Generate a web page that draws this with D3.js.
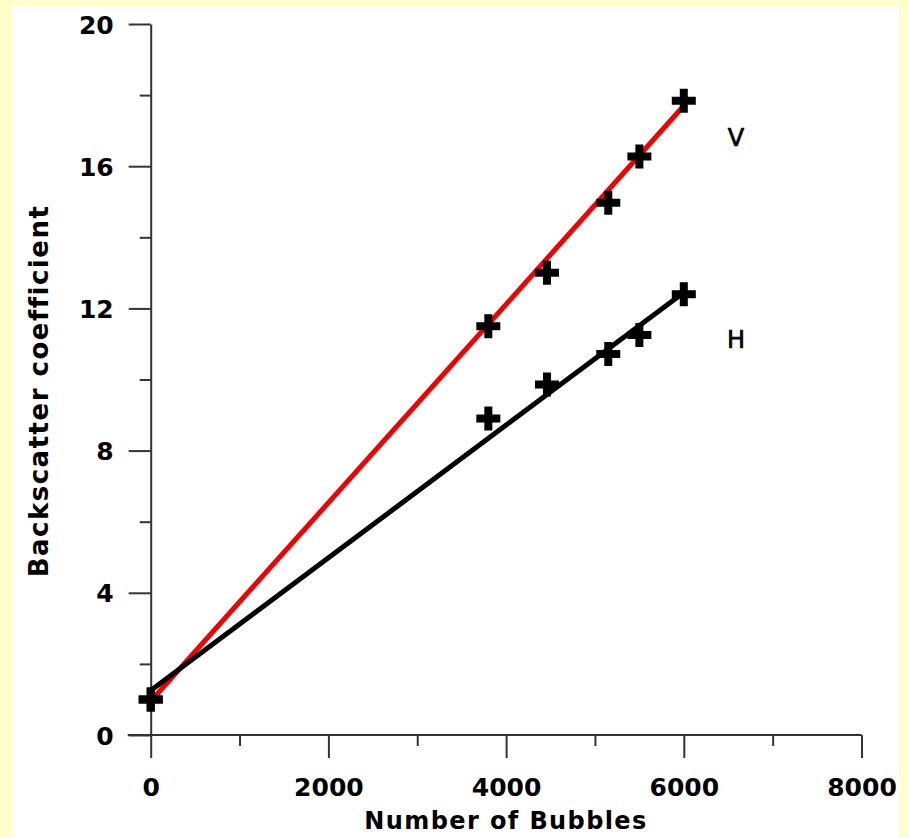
<!DOCTYPE html>
<html>
<head>
<meta charset="utf-8">
<script src="https://cdn.jsdelivr.net/npm/d3@7"></script>
<style>
  body { margin: 0; background: #ffffcc; }
  svg { display: block; }
  .axis path, .axis line { stroke: #333; stroke-width: 2; }
  .axis text { font-family: "DejaVu Sans", sans-serif; font-weight: bold; font-size: 25px; fill: #000; }
</style>
</head>
<body>
<div id="chart"></div>
<script>
// data
let bubbles = [0, 3800, 4460, 5150, 5500, 6000];
let vValues = [1.0, 11.5, 13.0, 14.97, 16.27, 17.84];
let hValues = [1.0, 8.9, 9.86, 10.72, 11.25, 12.4];

// fitted lines (end points)
let fitX = [0, 6000];
let vFit = [0.95, 17.7];
let hFit = [1.25, 12.45];

let xTicks = [0, 2000, 4000, 6000, 8000];
let xMinor = [1000, 3000, 5000, 7000];
let yTicks = [0, 4, 8, 12, 16, 20];
let yMinor = [2, 6, 10, 14, 18];

let width = 909, height = 838;

let svg = d3.select('#chart').append('svg')
    .attr('width', width)
    .attr('height', height);

svg.append('rect')
    .attr('width', width).attr('height', height)
    .attr('fill', '#ffffcc');

svg.append('rect')
    .attr('x', 12).attr('y', 6)
    .attr('width', 887).attr('height', height - 6)
    .attr('fill', '#fff');

let x = d3.scaleLinear().domain([0, 8000]).range([150.7, 861.5]);
let y = d3.scaleLinear().domain([0, 20]).range([735, 24]);

// minor ticks first
svg.append('g')
    .attr('class', 'axis')
    .attr('transform', 'translate(0,' + y(0) + ')')
    .call(d3.axisBottom(x).tickValues(xMinor).tickSize(11).tickSizeOuter(0).tickFormat(''))
    .select('.domain').remove();

svg.append('g')
    .attr('class', 'axis')
    .attr('transform', 'translate(' + x(0) + ',0)')
    .call(d3.axisLeft(y).tickValues(yMinor).tickSize(11).tickSizeOuter(0).tickFormat(''))
    .select('.domain').remove();

// main axes
let xAxis = svg.append('g')
    .attr('class', 'axis')
    .attr('transform', 'translate(0,' + y(0) + ')')
    .call(d3.axisBottom(x).tickValues(xTicks).tickSize(23).tickSizeOuter(0).tickPadding(20).tickFormat(d3.format('d')));

// x axis line reaches a little left of the y axis
xAxis.select('.domain').attr('d', 'M' + (x(0) - 23) + ',0H' + x(8000));

svg.append('g')
    .attr('class', 'axis')
    .attr('transform', 'translate(' + x(0) + ',0)')
    .call(d3.axisLeft(y).tickValues(yTicks).tickSize(22).tickSizeOuter(0).tickPadding(15).tickFormat(d3.format('d')))
    .selectAll('text').attr('dy', '0.36em');

// axis titles
svg.append('text')
    .text('Number of Bubbles')
    .attr('x', 506)
    .attr('y', 829)
    .attr('text-anchor', 'middle')
    .style('font-family', '"DejaVu Sans", sans-serif')
    .style('font-weight', 'bold')
    .style('font-size', '24px')
    .style('letter-spacing', '1.4px');

svg.append('text')
    .text('Backscatter coefficient')
    .attr('transform', 'translate(48,391) rotate(-90)')
    .attr('text-anchor', 'middle')
    .style('font-family', '"DejaVu Sans", sans-serif')
    .style('font-weight', 'bold')
    .style('font-size', '26px')
    .style('letter-spacing', '1.5px');

// fit lines
let line = d3.line()
    .x((d) => x(d[0]))
    .y((d) => y(d[1]));

svg.append('path')
    .datum(fitX.map((d, i) => [d, vFit[i]]))
    .attr('d', line)
    .attr('fill', 'none')
    .attr('stroke', '#f00000')
    .attr('stroke-width', 5);

svg.append('path')
    .datum(fitX.map((d, i) => [d, hFit[i]]))
    .attr('d', line)
    .attr('fill', 'none')
    .attr('stroke', '#000')
    .attr('stroke-width', 5);

// plus markers
let cross = d3.symbol().type(d3.symbolCross).size(320);

let pts = bubbles.map((d, i) => [d, vValues[i]])
    .concat(bubbles.map((d, i) => [d, hValues[i]]));

svg.selectAll('.pt')
    .data(pts)
    .enter()
    .append('path')
    .attr('class', 'pt')
    .attr('d', cross)
    .attr('transform', (d) => 'translate(' + x(d[0]) + ',' + y(d[1]) + ')')
    .attr('fill', '#000');

// series labels
svg.append('text')
    .text('V')
    .attr('x', 736)
    .attr('y', 146)
    .attr('text-anchor', 'middle')
    .style('font-family', '"DejaVu Sans", sans-serif')
    .style('font-size', '24px')
    .style('stroke', '#000')
    .style('stroke-width', 0.7);

svg.append('text')
    .text('H')
    .attr('x', 736)
    .attr('y', 348)
    .attr('text-anchor', 'middle')
    .style('font-family', '"DejaVu Sans", sans-serif')
    .style('font-size', '24px')
    .style('stroke', '#000')
    .style('stroke-width', 0.7);
</script>
</body>
</html>
